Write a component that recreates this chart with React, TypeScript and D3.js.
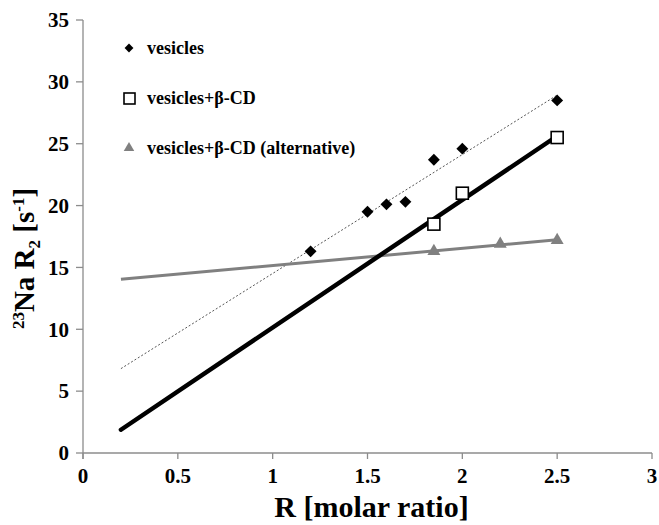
import React from 'react'
import * as d3 from 'd3'

const vesX = [1.2, 1.5, 1.6, 1.7, 1.85, 2.0, 2.5]
const vesY = [16.3, 19.5, 20.1, 20.3, 23.7, 24.6, 28.5]

const cdX = [1.85, 2.0, 2.5]
const cdY = [18.5, 21.0, 25.5]

const altX = [1.85, 2.2, 2.5]
const altY = [16.3, 16.9, 17.2]

// trend lines span (Excel-style backward forecast)
const trendRange = [0.2, 2.5]

const xTicks = [0, 0.5, 1, 1.5, 2, 2.5, 3]
const yTicks = [0, 5, 10, 15, 20, 25, 30, 35]

const legendLabels = ['vesicles', 'vesicles+β-CD', 'vesicles+β-CD (alternative)']

const W = 659
const H = 525
const margin = {left: 83, right: 7, top: 20, bottom: 72}
const font = '"Liberation Serif", "Times New Roman", serif'

function fit(xs: number[], ys: number[]) {
  const mx = d3.mean(xs) as number
  const my = d3.mean(ys) as number
  let sxx = 0
  let sxy = 0
  xs.forEach((x, i) => {
    sxx += (x - mx) * (x - mx)
    sxy += (x - mx) * (ys[i] - my)
  })
  const slope = sxy / sxx
  const b = my - slope * mx
  return trendRange.map(x => [x, slope * x + b] as [number, number])
}

export default function App() {
  const x = d3.scaleLinear().domain([0, 3]).range([margin.left, W - margin.right])
  const y = d3.scaleLinear().domain([0, 35]).range([H - margin.bottom, margin.top])
  const line = d3
    .line<[number, number]>()
    .x(d => x(d[0]))
    .y(d => y(d[1]))

  const diamond = d3.symbol(d3.symbolDiamond2, 90)()
  const triangle = d3.symbol(d3.symbolTriangle2, 120)()

  const axisColor = '#8c8c8c'
  const x0 = x(0)
  const yBase = y(0)

  return (
    <svg width={W} height={H} style={{position: 'absolute', left: 0, top: 0}}>
      <rect width={W} height={H} fill="#fff" />
      {/* axes */}
      <line x1={x0} x2={x0} y1={y(35)} y2={yBase + 6} stroke={axisColor} strokeWidth={1.3} />
      <line x1={x0} x2={x(3)} y1={yBase} y2={yBase} stroke={axisColor} strokeWidth={1.3} />
      {yTicks.map(t => (
        <g key={'y' + t}>
          <line x1={x0 - 7} x2={x0} y1={y(t)} y2={y(t)} stroke={axisColor} strokeWidth={1.3} />
          <text
            x={x0 - 14}
            y={y(t)}
            dy="0.35em"
            textAnchor="end"
            fontFamily={font}
            fontWeight="bold"
            fontSize={21}
          >
            {t}
          </text>
        </g>
      ))}
      {xTicks.map(t => (
        <g key={'x' + t}>
          <line x1={x(t)} x2={x(t)} y1={yBase} y2={yBase + 6} stroke={axisColor} strokeWidth={1.3} />
          <text
            x={x(t)}
            y={yBase + 23}
            dy="0.35em"
            textAnchor="middle"
            fontFamily={font}
            fontWeight="bold"
            fontSize={21}
          >
            {t}
          </text>
        </g>
      ))}
      <text
        x={(x(0) + x(3)) / 2 + 4}
        y={H - 8}
        textAnchor="middle"
        fontFamily={font}
        fontWeight="bold"
        fontSize={30}
      >
        R [molar ratio]
      </text>
      <text
        transform={`translate(34, ${(y(0) + y(35)) / 2 + 22}) rotate(-90)`}
        textAnchor="middle"
        fontFamily={font}
        fontWeight="bold"
        fontSize={29}
      >
        <tspan fontSize={17} dy={-10}>23</tspan>
        <tspan dy={10}>Na R</tspan>
        <tspan fontSize={17} dy={6}>2</tspan>
        <tspan dy={-6}> [s</tspan>
        <tspan fontSize={17} dy={-10}>-1</tspan>
        <tspan dy={10}>]</tspan>
      </text>

      {/* trend lines */}
      <path d={line(fit(vesX, vesY)) as string} fill="none" stroke="#555" strokeWidth={1} strokeDasharray="2,2" />
      <path d={line(fit(altX, altY)) as string} fill="none" stroke="#808080" strokeWidth={3} />
      <path d={line(fit(cdX, cdY)) as string} fill="none" stroke="#000" strokeWidth={4.5} strokeLinecap="round" />

      {/* points */}
      {vesX.map((v, i) => (
        <path key={'v' + i} d={diamond as string} transform={`translate(${x(v)},${y(vesY[i])})`} fill="#000" />
      ))}
      {cdX.map((v, i) => (
        <rect
          key={'c' + i}
          x={x(v) - 6}
          y={y(cdY[i]) - 6}
          width={12}
          height={12}
          fill="#fff"
          stroke="#000"
          strokeWidth={1.6}
        />
      ))}
      {altX.map((v, i) => (
        <path key={'a' + i} d={triangle as string} transform={`translate(${x(v)},${y(altY[i])})`} fill="#808080" />
      ))}

      {/* legend */}
      <path d={d3.symbol(d3.symbolDiamond2, 50)() as string} transform="translate(129,48)" fill="#000" />
      <rect x={124} y={93} width={11} height={11} fill="#fff" stroke="#000" strokeWidth={1.6} />
      <path d={d3.symbol(d3.symbolTriangle2, 80)() as string} transform="translate(129,148)" fill="#808080" />
      {legendLabels.map((l, i) => (
        <text
          key={l}
          x={147}
          y={48 + i * 50}
          dy="0.35em"
          fontFamily={font}
          fontWeight="bold"
          fontSize={18}
        >
          {l}
        </text>
      ))}
    </svg>
  )
}
